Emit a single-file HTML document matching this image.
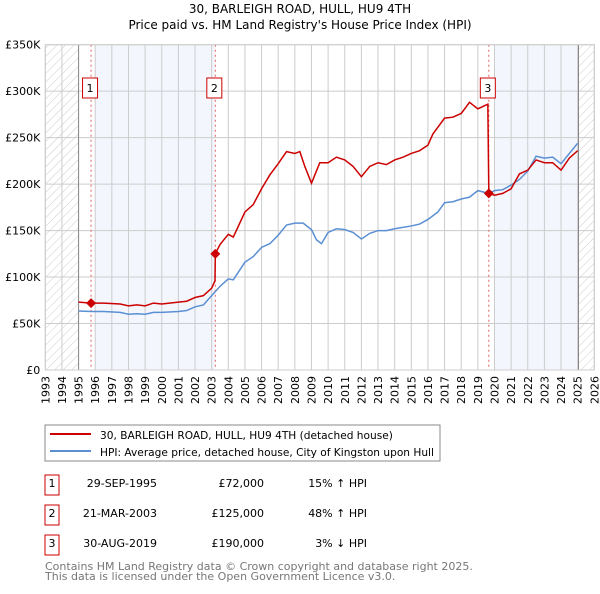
<!DOCTYPE html>
<html><head><meta charset="utf-8"><style>
body{margin:0;background:#fff;width:600px;height:590px;overflow:hidden;font-family:"DejaVu Sans","Liberation Sans",sans-serif}
svg text{font-family:"DejaVu Sans","Liberation Sans",sans-serif}
</style></head><body>
<svg id="c" width="600" height="590" xmlns="http://www.w3.org/2000/svg">
<defs><pattern id="hatch" width="6" height="6" patternUnits="userSpaceOnUse" patternTransform="rotate(45)"><line x1="0" y1="0" x2="0" y2="6" stroke="#ccc" stroke-width="1"/></pattern></defs>
<text x="300" y="13" text-anchor="middle" font-size="12">30, BARLEIGH ROAD, HULL, HU9 4TH</text>
<text x="300" y="29" text-anchor="middle" font-size="12">Price paid vs. HM Land Registry's House Price Index (HPI)</text>
<g id="plot"></g>
<rect x="45" y="425" width="395" height="36" fill="#fff" stroke="#888"/>
<line x1="50" y1="434" x2="91" y2="434" stroke="#cc0000" stroke-width="2"/>
<text x="100" y="439" font-size="10.6">30, BARLEIGH ROAD, HULL, HU9 4TH (detached house)</text>
<line x1="50" y1="451" x2="91" y2="451" stroke="#5b8fd4" stroke-width="2"/>
<text x="100" y="456" font-size="10.6">HPI: Average price, detached house, City of Kingston upon Hull</text>
<g font-size="11">
<rect x="45" y="475" width="14" height="20" fill="none" stroke="#cc0000"/><text x="52" y="487" text-anchor="middle">1</text>
<text x="157" y="487" text-anchor="end">29-SEP-1995</text><text x="264" y="487" text-anchor="end">£72,000</text><text x="367" y="487" text-anchor="end">15% ↑ HPI</text>
<rect x="45" y="505" width="14" height="20" fill="none" stroke="#cc0000"/><text x="52" y="517" text-anchor="middle">2</text>
<text x="157" y="517" text-anchor="end">21-MAR-2003</text><text x="264" y="517" text-anchor="end">£125,000</text><text x="367" y="517" text-anchor="end">48% ↑ HPI</text>
<rect x="45" y="535" width="14" height="20" fill="none" stroke="#cc0000"/><text x="52" y="547" text-anchor="middle">3</text>
<text x="157" y="547" text-anchor="end">30-AUG-2019</text><text x="264" y="547" text-anchor="end">£190,000</text><text x="367" y="547" text-anchor="end">3% ↓ HPI</text>
</g>
<text x="45" y="570" font-size="11" fill="#777">Contains HM Land Registry data © Crown copyright and database right 2025.</text>
<text x="45" y="580" font-size="11" fill="#777">This data is licensed under the Open Government Licence v3.0.</text>
</svg>
<script>
const hpiYears=[1995,1995.75,1996.5,1997.5,1998,1998.5,1999,1999.5,2000,2001,2001.5,2002,2002.5,2003,2003.5,2004,2004.3,2005,2005.5,2006,2006.5,2007,2007.5,2008,2008.5,2009,2009.3,2009.6,2010,2010.5,2011,2011.5,2012,2012.5,2013,2013.5,2014,2015,2015.5,2016,2016.3,2016.6,2017,2017.5,2018,2018.5,2019,2019.66,2020,2020.5,2021,2021.5,2022,2022.5,2023,2023.5,2024,2024.5,2025];
const hpiValues=[63.5,63,63,62,60,60.5,60,62,62,63,64,68,70,80,90,98,97,116,122,132,136,145,156,158,158,151,140,136,148,152,151,148,141,147,150,150,152,155,157,162,166,170,180,181,184,186,193,190,193,194,199,205,214,230,228,229,222,233,244];
const redYears=[1995,1995.75,1996.5,1997.5,1998,1998.5,1999,1999.5,2000,2001,2001.5,2002,2002.5,2003,2003.2,2003.22,2003.5,2004,2004.3,2005,2005.5,2006,2006.5,2007,2007.5,2008,2008.3,2008.6,2009,2009.5,2010,2010.5,2011,2011.5,2012,2012.5,2013,2013.5,2014,2014.5,2015,2015.5,2016,2016.3,2017,2017.5,2018,2018.5,2019,2019.6,2019.66,2020,2020.5,2021,2021.5,2022,2022.5,2023,2023.5,2024,2024.5,2025];
const redValues=[73,72,72,71,69,70,69,72,71,73,74,78,80,88,96,125,135,146,143,170,178,195,210,222,235,233,235,219,201,223,223,229,226,219,208,219,223,221,226,229,233,236,242,254,271,272,276,288,281,286,190,188,190,195,211,215,226,223,223,215,228,236];
const saleYears=[1995.75,2003.22,2019.66];
const saleValues=[72,125,190];
const saleLabels=["1","2","3"];
const yTicks=[0,50,100,150,200,250,300,350];
const yTickLabels=["£0","£50K","£100K","£150K","£200K","£250K","£300K","£350K"];
const xTicks=[1993,1994,1995,1996,1997,1998,1999,2000,2001,2002,2003,2004,2005,2006,2007,2008,2009,2010,2011,2012,2013,2014,2015,2016,2017,2018,2019,2020,2021,2022,2023,2024,2025,2026];

const X0=45.3,X1=594.3,Y0=370,Y1=44.7;
const xs=v=>X0+(v-1993)/33*(X1-X0);
const ys=v=>Y0-v/350*(Y0-Y1);
const NS="http://www.w3.org/2000/svg";
const g=document.getElementById('plot');
function mk(t,a){const e=document.createElementNS(NS,t);for(const k in a)e.setAttribute(k,a[k]);g.appendChild(e);return e;}

let e;
e=mk('rect',{x:xs(1996),y:Y1,width:xs(2003.22)-xs(1996),height:Y0-Y1,fill:'#eef3fc',opacity:0.7});


e=mk('rect',{x:xs(2020),y:Y1,width:xs(2025.05)-xs(2020),height:Y0-Y1,fill:'#eef3fc',opacity:0.7});


e=mk('rect',{x:X0,y:Y1,width:xs(1995)-X0,height:Y0-Y1,fill:'url(#hatch)'});


e=mk('rect',{x:xs(2025.05),y:Y1,width:X1-xs(2025.05),height:Y0-Y1,fill:'url(#hatch)'});



xTicks.forEach((t,i)=>{
 e=mk('line',{x1:xs(t),x2:xs(t),y1:Y1,y2:Y0,stroke:'#ccc','stroke-width':1});
 
 
 e=mk('text',{x:0,y:0,'font-size':11,'text-anchor':'end',transform:`translate(${xs(t)+4},${Y0+6}) rotate(-90)`});
 e.textContent=t;
 
 
});
yTicks.forEach((t,i)=>{
 e=mk('line',{x1:X0,x2:X1,y1:ys(t),y2:ys(t),stroke:'#ccc','stroke-width':1});
 
 
 e=mk('text',{x:X0-5,y:ys(t)+4,'font-size':11,'text-anchor':'end'});
 e.textContent=yTickLabels[i];
 
 
});
e=mk('line',{x1:xs(1995),x2:xs(1995),y1:Y1,y2:Y0,stroke:'#888'});


e=mk('line',{x1:xs(2025.05),x2:xs(2025.05),y1:Y1,y2:Y0,stroke:'#888'});



saleYears.forEach((t,i)=>{
 e=mk('line',{x1:xs(t),x2:xs(t),y1:Y1,y2:Y0,stroke:'#e06060','stroke-dasharray':'2,3','stroke-width':1});
 
 
});

e=mk('polyline',{points:hpiYears.map((t,i)=>xs(t)+','+ys(hpiValues[i])).join(' '),fill:'none',stroke:'#5b8fd4','stroke-width':1.5});


e=mk('polyline',{points:redYears.map((t,i)=>xs(t)+','+ys(redValues[i])).join(' '),fill:'none',stroke:'#cc0000','stroke-width':1.5});



saleYears.forEach((t,i)=>{
 const cx=xs(t),cy=ys(saleValues[i]);
 e=mk('polygon',{points:`${cx},${cy-5} ${cx+5},${cy} ${cx},${cy+5} ${cx-5},${cy}`,fill:'#cc0000'});
 
 
 e=mk('rect',{x:cx-8.5,y:78,width:15,height:20,fill:'#fff',stroke:'#cc0000'});
 
 
 e=mk('text',{x:cx-1,y:92,'font-size':11,'text-anchor':'middle'});
 e.textContent=saleLabels[i];
 
 
});
e=mk('rect',{x:X0,y:Y1,width:X1-X0,height:Y0-Y1,fill:'none',stroke:'#ccc'});


</script>
</body></html>
